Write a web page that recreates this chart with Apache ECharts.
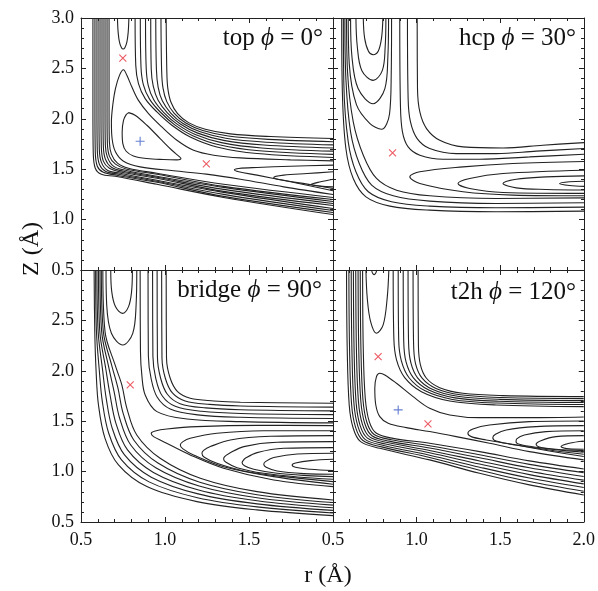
<!DOCTYPE html>
<html><head><meta charset="utf-8">
<script src="https://cdn.jsdelivr.net/npm/echarts/dist/echarts.min.js"></script>
<style>html,body{margin:0;padding:0;background:#fff}#c{width:598px;height:591px}</style>
</head><body><div id="c"></div>
<script>
// ---------- tick labels ----------
const xTickValues = [0.5, 1.0, 1.5, 2.0];
const yTickValues = [0.5, 1.0, 1.5, 2.0, 2.5, 3.0];
const panelTitles = ['top', 'hcp', 'bridge', 't2h'];
const panelAngles = ['0°', '30°', '90°', '120°'];

// ---------- top, phi = 0 ----------
const topLines = [
 [[0.667,3.0],[0.667,2.07],[0.669,1.77],[0.681,1.65],[0.717,1.56],[0.783,1.51],[0.952,1.46],[1.349,1.35],[2.0,1.22]],
 [[0.655,3.0],[0.655,2.07],[0.657,1.76],[0.669,1.63],[0.705,1.55],[0.773,1.50],[0.952,1.45],[1.349,1.33],[2.0,1.20]],
 [[0.643,3.0],[0.643,2.07],[0.645,1.74],[0.657,1.62],[0.693,1.53],[0.763,1.49],[0.952,1.43],[1.349,1.32],[2.0,1.18]],
 [[0.631,3.0],[0.631,2.07],[0.633,1.73],[0.645,1.60],[0.681,1.52],[0.753,1.48],[0.952,1.42],[1.349,1.30],[2.0,1.16]],
 [[0.619,3.0],[0.619,2.07],[0.621,1.72],[0.633,1.58],[0.669,1.51],[0.743,1.47],[0.952,1.41],[1.349,1.28],[2.0,1.14]],
 [[0.607,3.0],[0.607,2.07],[0.609,1.70],[0.621,1.57],[0.657,1.49],[0.733,1.46],[0.952,1.39],[1.349,1.27],[2.0,1.11]],
 [[0.595,3.0],[0.595,2.07],[0.597,1.69],[0.609,1.55],[0.645,1.48],[0.723,1.45],[0.952,1.38],[1.349,1.25],[2.0,1.09]],
 [[0.583,3.0],[0.583,2.07],[0.585,1.67],[0.597,1.53],[0.633,1.47],[0.713,1.44],[0.952,1.37],[1.349,1.23],[2.0,1.07]],
 [[0.571,3.0],[0.571,2.07],[0.573,1.66],[0.585,1.51],[0.621,1.45],[0.703,1.43],[0.952,1.35],[1.349,1.22],[2.0,1.05]],
 [[0.822,3.0],[0.826,2.53],[0.842,2.348],[0.882,2.20],[0.952,2.068],[1.041,1.936],[1.150,1.820],[1.309,1.721],[1.548,1.655],[2.0,1.616]],
 [[0.853,3.0],[0.857,2.519],[0.871,2.340],[0.908,2.195],[0.973,2.065],[1.058,1.940],[1.165,1.833],[1.322,1.743],[1.561,1.683],[2.0,1.647]],
 [[0.884,3.0],[0.888,2.508],[0.900,2.332],[0.933,2.189],[0.993,2.062],[1.074,1.945],[1.180,1.845],[1.336,1.764],[1.575,1.711],[2.0,1.679]],
 [[0.915,3.0],[0.918,2.497],[0.930,2.323],[0.959,2.184],[1.014,2.059],[1.091,1.949],[1.195,1.858],[1.349,1.786],[1.588,1.740],[2.0,1.710]],
 [[0.945,3.0],[0.949,2.486],[0.959,2.315],[0.984,2.178],[1.034,2.057],[1.107,1.953],[1.210,1.871],[1.362,1.807],[1.601,1.768],[2.0,1.741]],
 [[0.976,3.0],[0.980,2.475],[0.988,2.307],[1.010,2.173],[1.055,2.054],[1.124,1.958],[1.225,1.883],[1.376,1.829],[1.615,1.796],[2.0,1.773]],
 [[1.007,3.0],[1.011,2.464],[1.017,2.299],[1.035,2.167],[1.075,2.051],[1.140,1.962],[1.240,1.896],[1.389,1.850],[1.628,1.824],[2.0,1.804]],
 [[2.0,1.583],[1.747,1.593],[1.449,1.612],[1.290,1.639],[1.170,1.688],[1.071,1.787],[0.981,1.919],[0.902,2.051],[0.842,2.183],[0.803,2.315],[0.773,2.431],[0.753,2.487],[0.729,2.431],[0.705,2.299],[0.689,2.134],[0.681,1.969],[0.685,1.804],[0.705,1.672],[0.753,1.579],[0.852,1.523],[1.051,1.484],[1.246,1.451],[1.449,1.401],[1.707,1.325],[2.0,1.249]],
 [[0.783,2.061],[0.822,2.035],[0.892,1.936],[0.971,1.804],[1.041,1.688],[1.087,1.622],[1.095,1.606],[1.071,1.593],[0.991,1.596],[0.892,1.606],[0.812,1.632],[0.769,1.678],[0.749,1.754],[0.745,1.870],[0.753,1.985],[0.769,2.041],[0.783,2.061]],
 [[0.717,3.0],[0.721,2.86],[0.729,2.761],[0.741,2.705],[0.751,2.692],[0.761,2.705],[0.773,2.761],[0.781,2.86],[0.785,3.0]],
 [[2.0,1.540],[1.747,1.530],[1.548,1.517],[1.439,1.507],[1.413,1.494],[1.439,1.474],[1.548,1.441],[1.747,1.375],[2.0,1.286]],
 [[2.0,1.474],[1.846,1.457],[1.707,1.441],[1.647,1.418],[1.687,1.395],[1.846,1.352],[2.0,1.309]],
 [[2.0,1.401],[1.926,1.375],[1.870,1.348],[1.926,1.332],[2.0,1.325]]
];
const topSaddles = [[0.749,2.603],[1.246,1.553]];
const topMinima = [[0.852,1.777]];

// ---------- hcp, phi = 30 ----------
const hcpLines = [
 [[0.681,3.0],[0.689,2.80],[0.712,2.67],[0.740,2.636],[0.770,2.67],[0.790,2.80],[0.798,3.0]],
 [[0.637,3.0],[0.645,2.72],[0.672,2.48],[0.740,2.381],[0.795,2.48],[0.812,2.72],[0.816,3.0]],
 [[0.605,3.0],[0.613,2.62],[0.650,2.30],[0.740,2.150],[0.810,2.30],[0.828,2.62],[0.832,3.0]],
 [[0.591,3.0],[0.597,2.55],[0.640,2.14],[0.721,1.952],[0.790,1.896],[0.838,2.05],[0.848,2.45],[0.850,3.0]],
 [[0.581,3.0],[0.587,2.464],[0.621,1.969],[0.681,1.639],[0.760,1.408],[0.880,1.292],[1.078,1.236],[1.476,1.210],[2.0,1.216]],
 [[0.571,3.0],[0.577,2.398],[0.605,1.870],[0.657,1.556],[0.731,1.342],[0.860,1.236],[1.078,1.183],[1.476,1.160],[2.0,1.167]],
 [[0.562,3.0],[0.565,2.332],[0.591,1.771],[0.637,1.474],[0.711,1.276],[0.850,1.177],[1.078,1.134],[1.476,1.117],[2.0,1.124]],
 [[0.552,3.0],[0.556,2.266],[0.577,1.705],[0.621,1.408],[0.697,1.226],[0.840,1.134],[1.078,1.094],[1.476,1.078],[2.0,1.084]],
 [[0.899,3.0],[0.903,2.134],[0.915,1.870],[0.949,1.721],[1.019,1.639],[1.158,1.599],[1.377,1.599],[1.675,1.622],[2.0,1.649]],
 [[0.945,3.0],[0.949,2.200],[0.963,1.969],[1.003,1.804],[1.078,1.705],[1.237,1.655],[1.476,1.655],[1.715,1.679],[2.0,1.705]],
 [[1.003,3.0],[1.005,2.299],[1.019,2.068],[1.059,1.903],[1.138,1.787],[1.277,1.721],[1.516,1.711],[1.754,1.738],[2.0,1.764]],
 [[2.0,1.577],[1.575,1.556],[1.277,1.523],[1.019,1.474],[0.959,1.424],[1.019,1.358],[1.277,1.276],[1.575,1.243],[2.0,1.236]],
 [[2.0,1.49],[1.516,1.457],[1.317,1.408],[1.247,1.358],[1.317,1.309],[1.516,1.269],[2.0,1.26]],
 [[2.0,1.434],[1.774,1.424],[1.595,1.401],[1.516,1.358],[1.595,1.315],[1.774,1.299],[2.0,1.293]],
 [[2.0,1.38],[1.913,1.375],[1.854,1.358],[1.913,1.338],[2.0,1.33]]
];
const hcpSaddles = [[0.856,1.662]];
const hcpMinima = [];

// ---------- bridge, phi = 90 ----------
const bridgeLines = [
 [[0.677,3.0],[0.683,2.785],[0.705,2.637],[0.747,2.570],[0.783,2.637],[0.801,2.785],[0.806,3.0]],
 [[0.649,3.0],[0.653,2.653],[0.681,2.372],[0.749,2.256],[0.808,2.372],[0.828,2.653],[0.832,3.0]],
 [[0.630,3.0],[0.643,2.389],[0.703,2.058],[0.743,1.860],[0.773,1.628],[0.832,1.363],[0.971,1.132],[1.210,0.934],[1.548,0.801],[2.0,0.719]],
 [[0.621,3.0],[0.633,2.389],[0.684,2.047],[0.720,1.827],[0.751,1.578],[0.814,1.314],[0.958,1.085],[1.207,0.895],[1.548,0.771],[2.0,0.693]],
 [[0.613,3.0],[0.623,2.389],[0.665,2.036],[0.697,1.794],[0.730,1.529],[0.796,1.264],[0.945,1.038],[1.203,0.857],[1.548,0.741],[2.0,0.667]],
 [[0.604,3.0],[0.612,2.389],[0.647,2.025],[0.673,1.760],[0.708,1.479],[0.777,1.215],[0.931,0.992],[1.200,0.818],[1.548,0.711],[2.0,0.641]],
 [[0.595,3.0],[0.602,2.389],[0.628,2.014],[0.650,1.727],[0.686,1.429],[0.759,1.165],[0.918,0.945],[1.197,0.779],[1.548,0.680],[2.0,0.615]],
 [[0.587,3.0],[0.592,2.389],[0.609,2.003],[0.627,1.694],[0.665,1.380],[0.741,1.116],[0.905,0.898],[1.193,0.741],[1.548,0.650],[2.0,0.589]],
 [[0.578,3.0],[0.582,2.389],[0.590,1.992],[0.604,1.661],[0.643,1.330],[0.723,1.066],[0.892,0.851],[1.190,0.702],[1.548,0.620],[2.0,0.563]],
 [[0.852,3.0],[0.854,2.190],[0.862,1.959],[0.882,1.760],[0.952,1.595],[1.131,1.522],[1.449,1.496],[2.0,1.483]],
 [[0.899,3.0],[0.901,2.150],[0.917,1.926],[0.953,1.740],[1.031,1.621],[1.194,1.563],[1.449,1.539],[2.0,1.527]],
 [[0.926,3.0],[0.928,2.144],[0.945,1.926],[0.983,1.753],[1.061,1.648],[1.218,1.598],[1.449,1.576],[2.0,1.565]],
 [[0.953,3.0],[0.955,2.137],[0.974,1.926],[1.014,1.767],[1.090,1.674],[1.242,1.632],[1.449,1.614],[2.0,1.602]],
 [[0.980,3.0],[0.982,2.130],[1.002,1.926],[1.044,1.780],[1.120,1.701],[1.266,1.667],[1.449,1.651],[2.0,1.640]],
 [[1.007,3.0],[1.009,2.124],[1.031,1.926],[1.075,1.793],[1.150,1.727],[1.290,1.701],[1.449,1.688],[2.0,1.678]],
 [[2.0,1.456],[1.548,1.459],[1.190,1.446],[1.011,1.423],[0.942,1.403],[0.918,1.380],[0.932,1.347],[0.991,1.297],[1.150,1.165],[1.349,1.033],[1.647,0.917],[2.0,0.851]],
 [[2.0,1.406],[1.588,1.406],[1.309,1.380],[1.150,1.330],[1.107,1.297],[1.091,1.264],[1.107,1.225],[1.170,1.165],[1.349,1.049],[1.647,0.950],[2.0,0.874]],
 [[2.0,1.357],[1.628,1.350],[1.389,1.314],[1.270,1.248],[1.230,1.211],[1.220,1.182],[1.234,1.142],[1.309,1.082],[1.469,1.006],[1.707,0.950],[2.0,0.901]],
 [[2.0,1.297],[1.667,1.291],[1.469,1.248],[1.379,1.178],[1.355,1.149],[1.349,1.125],[1.363,1.092],[1.429,1.039],[1.588,0.983],[1.787,0.947],[2.0,0.924]],
 [[2.0,1.238],[1.707,1.231],[1.548,1.188],[1.478,1.132],[1.465,1.109],[1.459,1.089],[1.473,1.059],[1.528,1.023],[1.667,0.983],[1.846,0.960],[2.0,0.950]],
 [[2.0,1.182],[1.787,1.175],[1.647,1.139],[1.598,1.099],[1.588,1.072],[1.602,1.043],[1.667,1.006],[1.826,0.980],[2.0,0.973]],
 [[2.0,1.122],[1.866,1.109],[1.777,1.086],[1.757,1.066],[1.777,1.043],[1.866,1.023],[2.0,1.010]]
];
const bridgeSaddles = [[0.793,1.860]];
const bridgeMinima = [];

// ---------- t2h, phi = 120 ----------
const t2hLines = [
 [[0.731,3.0],[0.736,2.971],[0.746,2.954],[0.756,2.971],[0.762,3.0]],
 [[0.697,3.0],[0.705,2.719],[0.725,2.488],[0.760,2.372],[0.800,2.455],[0.824,2.719],[0.834,3.0]],
 [[2.0,1.542],[1.675,1.535],[1.377,1.535],[1.198,1.562],[1.078,1.628],[0.979,1.744],[0.880,1.876],[0.810,1.959],[0.780,1.975],[0.760,1.942],[0.750,1.826],[0.756,1.661],[0.780,1.545],[0.830,1.479],[0.939,1.436],[1.078,1.397],[1.237,1.347],[1.436,1.281],[1.675,1.198],[2.0,1.116]],
 [[0.860,3.0],[0.864,2.322],[0.880,2.108],[0.929,1.932],[1.029,1.793],[1.198,1.701],[1.476,1.661],[2.0,1.645]],
 [[0.890,3.0],[0.893,2.309],[0.909,2.098],[0.955,1.931],[1.051,1.801],[1.214,1.716],[1.484,1.680],[2.0,1.665]],
 [[0.920,3.0],[0.923,2.296],[0.937,2.088],[0.981,1.930],[1.073,1.809],[1.230,1.731],[1.492,1.698],[2.0,1.685]],
 [[0.949,3.0],[0.952,2.282],[0.966,2.078],[1.007,1.928],[1.094,1.817],[1.245,1.747],[1.500,1.717],[2.0,1.704]],
 [[0.979,3.0],[0.982,2.269],[0.994,2.068],[1.033,1.927],[1.116,1.825],[1.261,1.762],[1.508,1.735],[2.0,1.724]],
 [[1.009,3.0],[1.011,2.256],[1.023,2.058],[1.059,1.926],[1.138,1.833],[1.277,1.777],[1.516,1.754],[2.0,1.744]],
 [[0.677,3.0],[0.681,2.223],[0.693,1.727],[0.717,1.496],[0.760,1.380],[0.860,1.330],[1.078,1.281],[1.377,1.198],[1.675,1.106],[2.0,1.026]],
 [[0.663,3.0],[0.667,2.223],[0.679,1.718],[0.703,1.487],[0.746,1.368],[0.849,1.316],[1.078,1.257],[1.377,1.167],[1.675,1.072],[2.0,0.989]],
 [[0.650,3.0],[0.654,2.223],[0.666,1.708],[0.690,1.477],[0.733,1.356],[0.837,1.302],[1.078,1.234],[1.377,1.137],[1.675,1.038],[2.0,0.952]],
 [[0.636,3.0],[0.640,2.223],[0.652,1.699],[0.676,1.468],[0.719,1.344],[0.826,1.288],[1.078,1.210],[1.377,1.106],[1.675,1.004],[2.0,0.915]],
 [[0.622,3.0],[0.626,2.223],[0.638,1.689],[0.662,1.458],[0.706,1.332],[0.814,1.274],[1.078,1.187],[1.377,1.075],[1.675,0.970],[2.0,0.878]],
 [[0.609,3.0],[0.613,2.223],[0.625,1.680],[0.649,1.449],[0.692,1.320],[0.803,1.259],[1.078,1.163],[1.377,1.044],[1.675,0.936],[2.0,0.842]],
 [[0.595,3.0],[0.599,2.223],[0.611,1.671],[0.635,1.439],[0.679,1.309],[0.791,1.245],[1.078,1.140],[1.377,1.014],[1.675,0.902],[2.0,0.805]],
 [[0.581,3.0],[0.585,2.223],[0.597,1.661],[0.621,1.430],[0.665,1.297],[0.780,1.231],[1.078,1.116],[1.377,0.983],[1.675,0.868],[2.0,0.768]],
 [[2.0,1.502],[1.675,1.496],[1.436,1.463],[1.337,1.423],[1.307,1.380],[1.327,1.347],[1.416,1.314],[1.595,1.264],[1.794,1.205],[2.0,1.149]],
 [[2.0,1.456],[1.715,1.446],[1.536,1.413],[1.472,1.370],[1.456,1.337],[1.476,1.304],[1.595,1.264],[1.794,1.215],[2.0,1.172]],
 [[2.0,1.406],[1.774,1.397],[1.645,1.363],[1.599,1.324],[1.595,1.297],[1.615,1.271],[1.715,1.241],[1.874,1.211],[2.0,1.192]],
 [[2.0,1.357],[1.834,1.347],[1.744,1.307],[1.715,1.271],[1.734,1.244],[1.834,1.221],[2.0,1.208]],
 [[2.0,1.304],[1.913,1.281],[1.864,1.248],[1.913,1.225],[2.0,1.221]]
];
const t2hSaddles = [[0.770,2.141],[1.068,1.473]];
const t2hMinima = [[0.890,1.612]];

// ---------- build ----------
const FONT = '"Liberation Serif","Times New Roman",serif';
const panels = [
  {lines: topLines, saddles: topSaddles, minima: topMinima},
  {lines: hcpLines, saddles: hcpSaddles, minima: hcpMinima},
  {lines: bridgeLines, saddles: bridgeSaddles, minima: bridgeMinima},
  {lines: t2hLines, saddles: t2hSaddles, minima: t2hMinima}
];
const grids = [
  {left: 81, top: 18, width: 252, height: 252},
  {left: 333, top: 18, width: 251, height: 252},
  {left: 81, top: 270, width: 252, height: 252},
  {left: 333, top: 270, width: 251, height: 252}
];
const lineCol = '#222';
function axCommon() {
  return {
    type: 'value',
    axisLine: {show: true, onZero: false, lineStyle: {color: lineCol, width: 1}},
    axisTick: {show: true, inside: true, length: 5, lineStyle: {color: lineCol, width: 1}},
    minorTick: {show: true, inside: true, splitNumber: 5, length: 3, lineStyle: {color: lineCol, width: 1}},
    splitLine: {show: false}, minorSplitLine: {show: false}
  };
}
const xAxes = [], yAxes = [];
grids.forEach((g, i) => {
  const bottomRow = i >= 2, leftCol = (i % 2 === 0);
  xAxes.push(Object.assign(axCommon(), {gridIndex: i, position: 'bottom', min: 0.5, max: 2.0, interval: 0.5,
    axisLabel: {show: bottomRow, fontFamily: FONT, fontSize: 18, color: '#111', margin: 9,
      formatter: v => (i === 2 && v === xTickValues[3]) ? '' : v.toFixed(1)}}));
  xAxes.push(Object.assign(axCommon(), {gridIndex: i, position: 'top', min: 0.5, max: 2.0, interval: 0.5,
    axisLabel: {show: false}}));
  yAxes.push(Object.assign(axCommon(), {gridIndex: i, position: 'left', min: 0.5, max: 3.0, interval: 0.5,
    axisLabel: {show: leftCol, fontFamily: FONT, fontSize: 18, color: '#111', margin: 7,
      formatter: v => (i === 2 && v === yTickValues[5]) ? '' : v.toFixed(1)}}));
  yAxes.push(Object.assign(axCommon(), {gridIndex: i, position: 'right', min: 0.5, max: 3.0, interval: 0.5,
    axisLabel: {show: false}}));
});
const series = [];
panels.forEach((p, i) => {
  p.lines.forEach(l => series.push({
    type: 'line', xAxisIndex: 2 * i, yAxisIndex: 2 * i, data: l, smooth: 0.35,
    symbol: 'none', silent: true, clip: true, animation: false,
    lineStyle: {color: lineCol, width: 1.1}
  }));
  series.push({type: 'scatter', xAxisIndex: 2 * i, yAxisIndex: 2 * i, data: p.saddles,
    symbol: 'path://M0,0L10,10M10,0L0,10', symbolSize: 7, silent: true, animation: false,
    itemStyle: {color: 'rgba(0,0,0,0)', borderColor: '#e8323c', borderWidth: 1.1}});
  series.push({type: 'scatter', xAxisIndex: 2 * i, yAxisIndex: 2 * i, data: p.minima,
    symbol: 'path://M5,0L5,10M0,5L10,5', symbolSize: 9, silent: true, animation: false,
    itemStyle: {color: 'rgba(0,0,0,0)', borderColor: '#3d5fc4', borderWidth: 1.1}});
});
const titlePos = [[323, 38], [576, 38], [322, 290], [576, 292]];
const graphic = panelTitles.map((t, i) => ({
  type: 'text', x: titlePos[i][0], y: titlePos[i][1], silent: true,
  style: {text: t + ' {i|ϕ} = ' + panelAngles[i], align: 'right', verticalAlign: 'middle',
    font: '25px ' + FONT, fill: '#111',
    rich: {i: {fontStyle: 'italic', fontSize: 25, fontFamily: FONT, fill: '#111'}}}
}));
graphic.push({type: 'text', x: 32, y: 249, rotation: Math.PI / 2, silent: true,
  style: {text: 'Z (Å)', align: 'center', verticalAlign: 'middle', font: '24px ' + FONT, fill: '#111'}});
graphic.push({type: 'text', x: 328, y: 576, silent: true,
  style: {text: 'r (Å)', align: 'center', verticalAlign: 'middle', font: '24px ' + FONT, fill: '#111'}});

const chart = echarts.init(document.getElementById('c'), null, {renderer: 'canvas'});
chart.setOption({animation: false, backgroundColor: '#fff', grid: grids, xAxis: xAxes, yAxis: yAxes, series: series, graphic: graphic});
</script></body></html>
